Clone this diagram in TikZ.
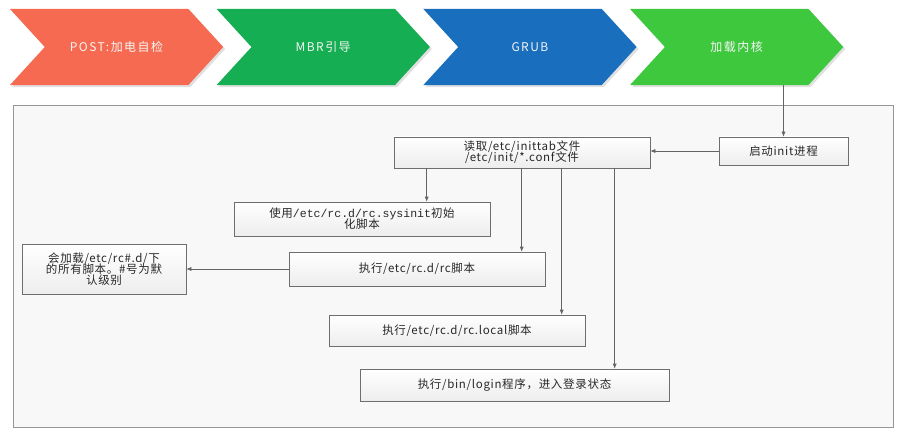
\documentclass[tikz,border=0pt]{standalone}
\usepackage{fontspec}
\setmainfont{Noto Sans CJK SC}
\setmonofont{Liberation Mono}
\usepackage{tikz}
\usetikzlibrary{
  arrows.meta,
  backgrounds
}
\definecolor{postcolor}{RGB}{245, 106, 80}
\definecolor{mbrcolor}{RGB}{22, 174, 82}
\definecolor{grubcolor}{RGB}{26, 110, 190}
\definecolor{kernelcolor}{RGB}{62, 200, 62}
\definecolor{framecolor}{RGB}{150, 150, 150}
\definecolor{framefill}{RGB}{248, 248, 248}
\definecolor{boxcolor}{RGB}{110, 110, 110}
\definecolor{arrowcolor}{RGB}{100, 100, 100}
\definecolor{labelcolor}{RGB}{40, 40, 40}
\tikzset{
stagetext/.style={
  align=center,
  font=\fontsize{12}{14}\selectfont\addfontfeatures{LetterSpace=12},
  text=white!92!gray
},
stage/.style={
  minimum width=213pt,
  minimum height=76pt,
  inner sep=0pt,
  stagetext
},
blocktext/.style={
  align=center,
  font=\fontsize{11.5}{14}\selectfont\addfontfeatures{LetterSpace=6},
  text=labelcolor
},
block/.style={
  draw=boxcolor,
  line width=0.6pt,
  top color=white,
  bottom color=gray!14,
  inner sep=2pt,
  blocktext
},
bootframe/.style={
  draw=framecolor,
  line width=0.8pt,
  fill=framefill
},
arrow/.style={
  -{Latex[length=5pt,width=4pt]},
  line width=0.6pt,
  draw=arrowcolor
}
}

\begin{document}
\begin{tikzpicture}[x=1pt, y=-1pt]
  \useasboundingbox (0,0) rectangle (913,441);
  % stages along the top
  \foreach \i/\x/\c/\t in {1/116.5/postcolor/{POST:加电自检},
                           2/323.2/mbrcolor/{MBR引导},
                           3/529.9/grubcolor/{GRUB},
                           4/736.6/kernelcolor/{加载内核}} {
    \node[stage] (s\i) at (\x,47) {\t};
    \begin{scope}[on background layer]
      \fill[black!12] ([shift={(2pt,-2pt)}]s\i.north west) -- ([shift={(-33pt,-2pt)}]s\i.north east)
        -- ([shift={(2pt,-2pt)}]s\i.east) -- ([shift={(-33pt,-2pt)}]s\i.south east)
        -- ([shift={(2pt,-2pt)}]s\i.south west) -- ([shift={(37pt,-2pt)}]s\i.west) -- cycle;
      \fill[\c] (s\i.north west) -- ([xshift=-35pt]s\i.north east) -- (s\i.east)
        -- ([xshift=-35pt]s\i.south east) -- (s\i.south west)
        -- ([xshift=35pt]s\i.west) -- cycle;
    \end{scope}
  }
  % init part
  \begin{scope}[on background layer]
    \draw[bootframe] (13,105) rectangle (893,427);
  \end{scope}
  \node[block, minimum width=129pt, minimum height=28pt] (init) at (783.5,151) {启动init进程};
  \node[block, minimum width=256pt, minimum height=31pt] (readtab) at (522,152.5)
    {读取/etc/inittab文件\\[-3pt]/etc/init/*.conf文件};
  \node[block, minimum width=256pt, minimum height=34pt] (sysinit) at (362,219)
    {使用{\ttfamily/etc/rc.d/rc.sysinit}初始\\[-3pt]化脚本};
  \node[block, minimum width=256pt, minimum height=34pt] (rcscript) at (417,269) {执行/etc/rc.d/rc脚本};
  \node[block, minimum width=164pt, minimum height=50pt] (rcnote) at (104,269)
    {会加载/etc/rc\#.d/下\\[-3pt]的所有脚本。\#号为默\\[-3pt]认级别};
  \node[block, minimum width=256pt, minimum height=31pt] (rclocal) at (457,330.5) {执行/etc/rc.d/rc.local脚本};
  \node[block, minimum width=309pt, minimum height=32pt] (login) at (514.5,385) {执行/bin/login程序，进入登录状态};

  \draw[arrow] (s4.south -| init.north) -- (init.north);
  \draw[arrow] (init.west) -- (init.west -| readtab.east);
  \draw[arrow] ([xshift=33pt]readtab.south west) -- ([xshift=33pt]readtab.south west |- sysinit.north);
  \draw[arrow] ([xshift=128pt]readtab.south west) -- ([xshift=128pt]readtab.south west |- rcscript.north);
  \draw[arrow] ([xshift=168pt]readtab.south west) -- ([xshift=168pt]readtab.south west |- rclocal.north);
  \draw[arrow] ([xshift=221pt]readtab.south west) -- ([xshift=221pt]readtab.south west |- login.north);
  \draw[arrow] (rcscript.west) -- (rcscript.west -| rcnote.east);
\end{tikzpicture}
\end{document}
